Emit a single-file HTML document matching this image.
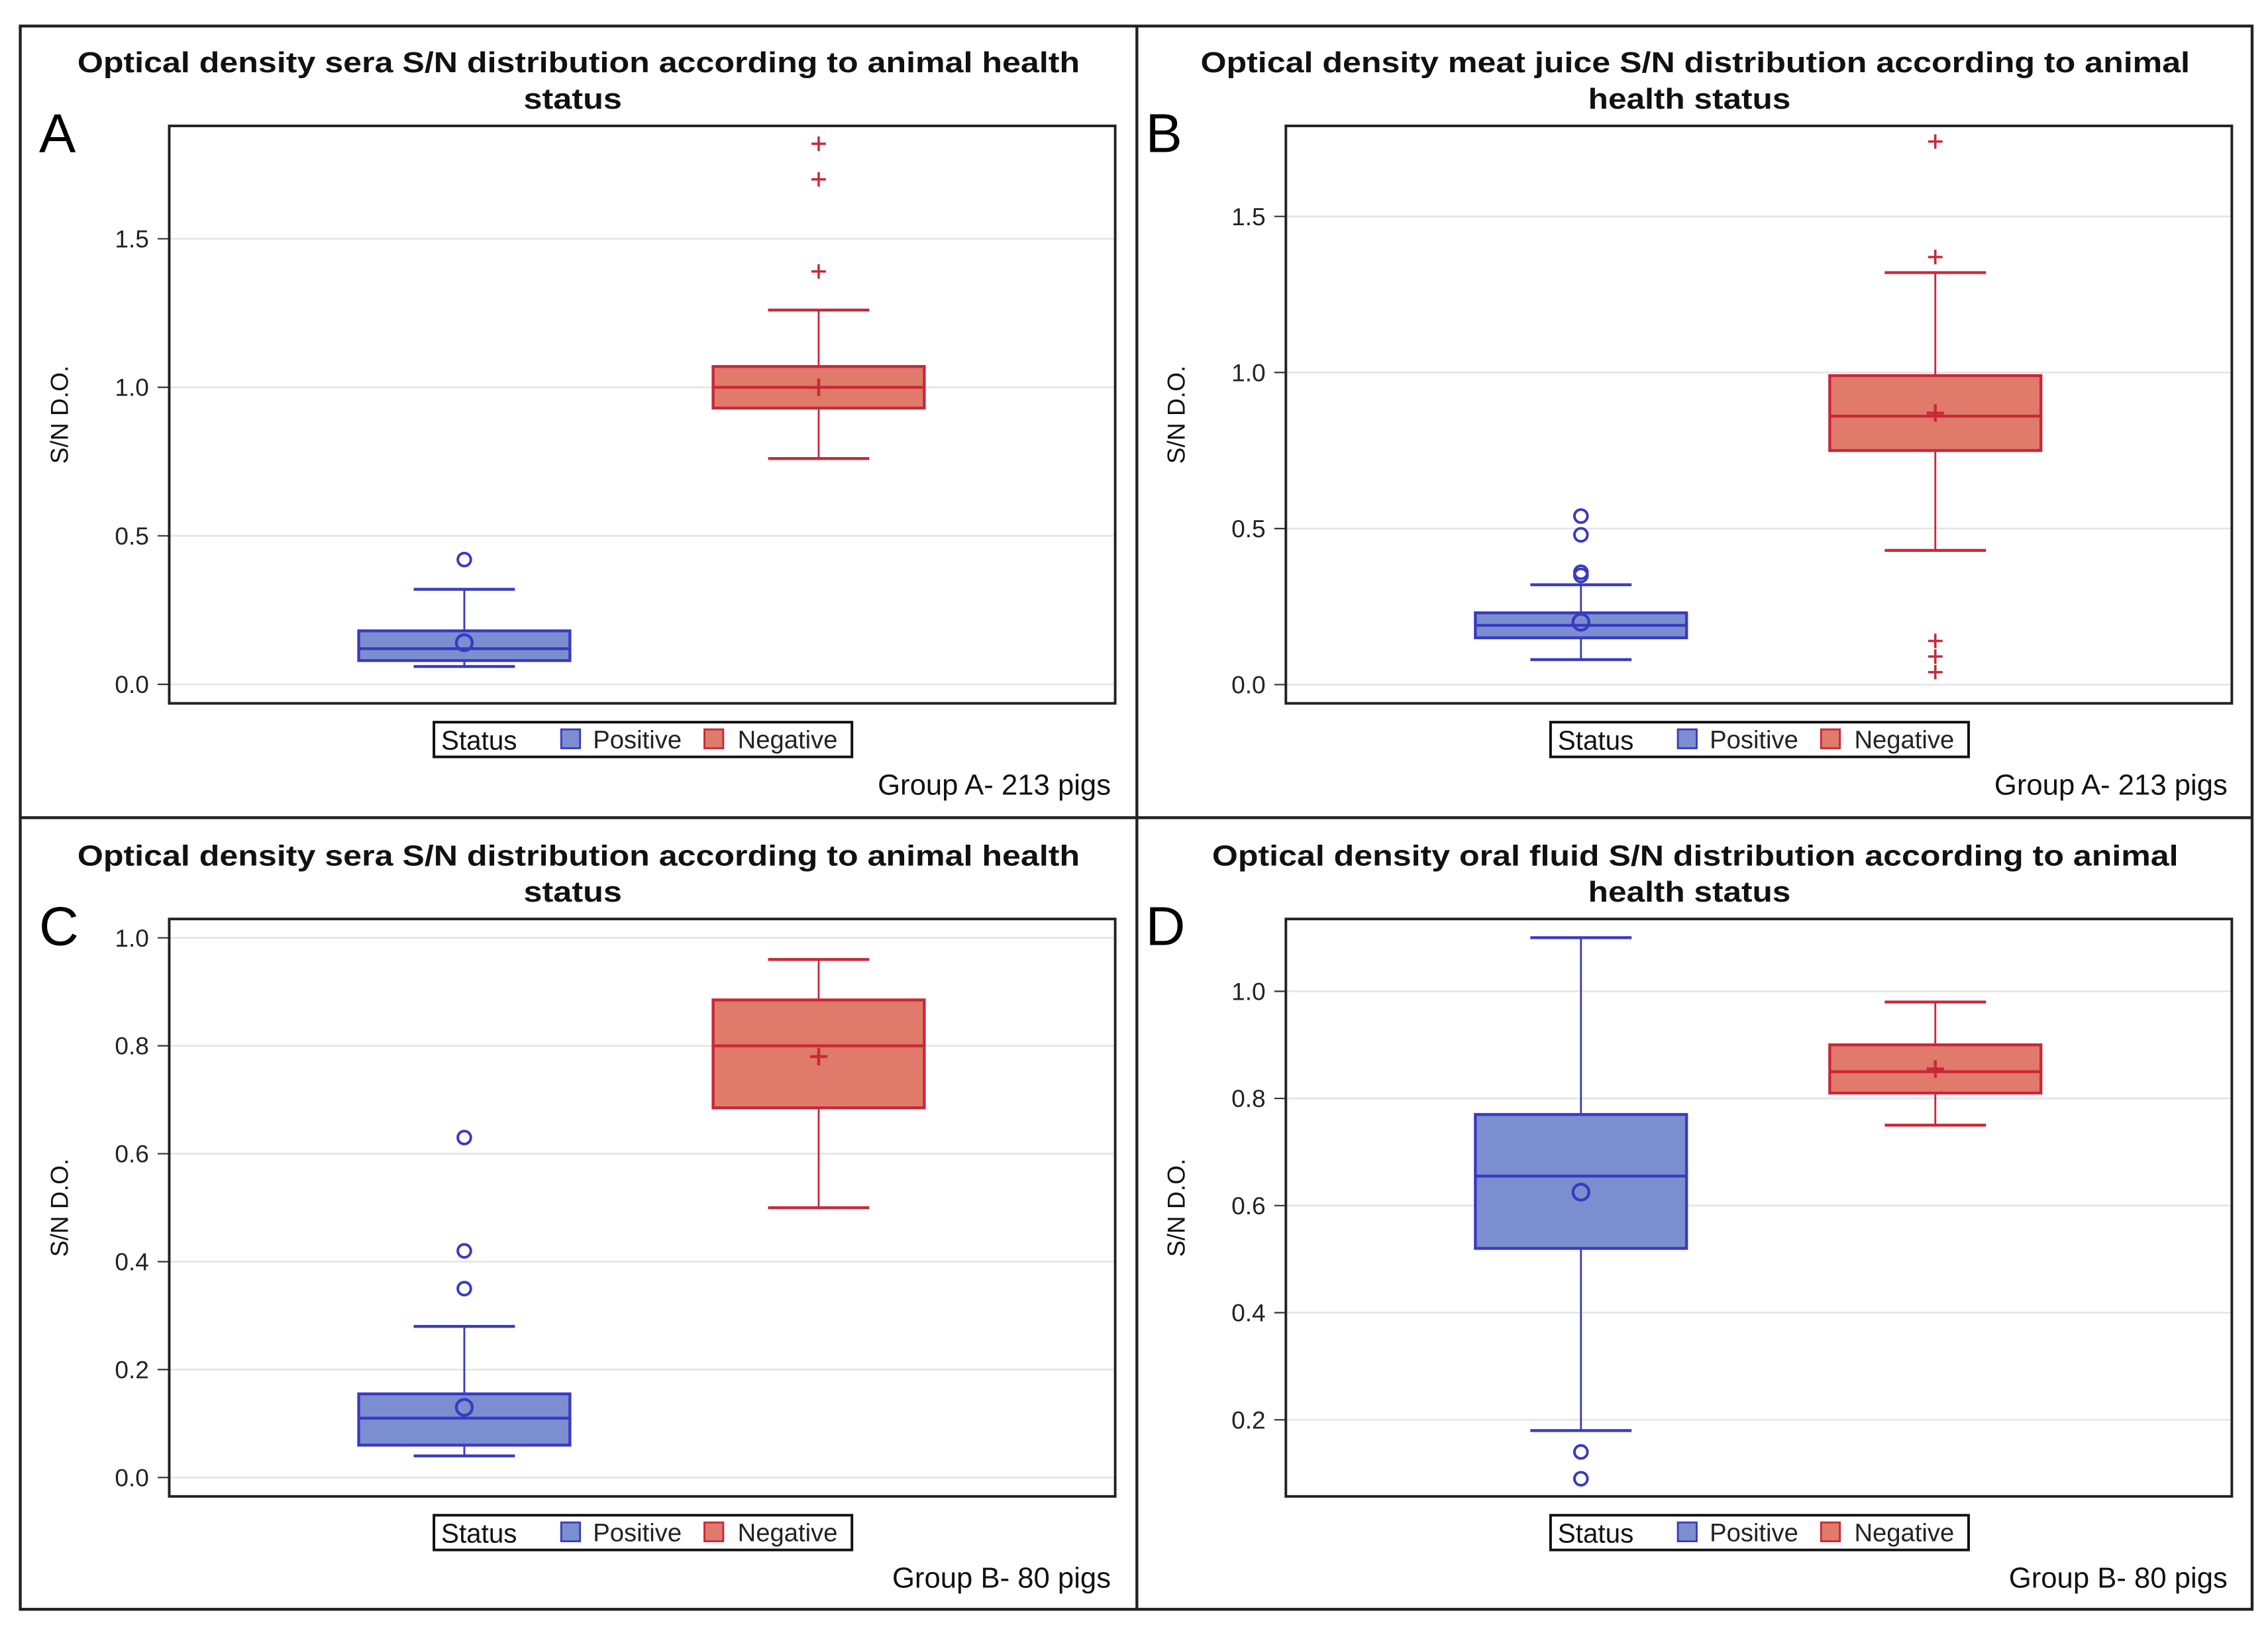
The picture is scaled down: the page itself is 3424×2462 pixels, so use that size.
<!DOCTYPE html>
<html><head><meta charset="utf-8"><style>
html,body{margin:0;padding:0;background:#fff}
svg{display:block}
text{font-family:"Liberation Sans",Arial,sans-serif}
</style></head><body>
<svg id="fig" width="3424" height="2462" viewBox="0 0 1568 1127" preserveAspectRatio="none" xmlns="http://www.w3.org/2000/svg">
<rect x="14" y="18" width="1543" height="1094" fill="#fff" stroke="#222" stroke-width="2"/>
<line x1="786" y1="18" x2="786" y2="1112" stroke="#222" stroke-width="2"/>
<line x1="14" y1="565" x2="1557" y2="565" stroke="#222" stroke-width="2"/>
</svg>
<script>
// ---- data ----
const panelLetters = ["A","B","C","D"];
const panelTitles1 = ["Optical density sera S/N distribution according to animal health","Optical density meat juice S/N distribution according to animal","Optical density sera S/N distribution according to animal health","Optical density oral fluid S/N distribution according to animal"];
const panelTitles2 = ["status","health status","status","health status"];
const footers = ["Group A- 213 pigs","Group A- 213 pigs","Group B- 80 pigs","Group B- 80 pigs"];
const categories = ["Positive","Negative"];
const yTicksA = [0.0,0.5,1.0,1.5];
const yTicksB = [0.0,0.5,1.0,1.5];
const yTicksC = [0.0,0.2,0.4,0.6,0.8,1.0];
const yTicksD = [0.2,0.4,0.6,0.8,1.0];
const yRangeA = [-0.064,1.88];
const yRangeB = [-0.06,1.79];
const yRangeC = [-0.035,1.035];
const yRangeD = [0.057,1.135];
// box stats: [low whisker, q1, median, q3, high whisker, mean]
const statsAPos = [0.06,0.08,0.12,0.18,0.32,0.14];
const statsANeg = [0.76,0.93,1.00,1.07,1.26,1.00];
const outliersAPos = [0.42];
const outliersANeg = [1.39,1.70,1.82];
const statsBPos = [0.08,0.15,0.19,0.23,0.32,0.20];
const statsBNeg = [0.43,0.75,0.86,0.99,1.32,0.87];
const outliersBPos = [0.35,0.36,0.48,0.54];
const outliersBNeg = [0.04,0.09,0.14,1.37,1.74];
const statsCPos = [0.04,0.06,0.11,0.155,0.28,0.13];
const statsCNeg = [0.50,0.685,0.80,0.885,0.96,0.78];
const outliersCPos = [0.35,0.42,0.63];
const outliersCNeg = [];
const statsDPos = [0.18,0.52,0.655,0.77,1.10,0.625];
const statsDNeg = [0.75,0.81,0.85,0.90,0.98,0.855];
const outliersDPos = [0.14,0.09];
const outliersDNeg = [];

// layout (text widths, not data)
const titleW1 = [693,684,693,668];
const titleW2 = [68,140,68,140];

const NS="http://www.w3.org/2000/svg";
const svg=document.getElementById('fig');
function mk(tag,attrs,parent){const e=document.createElementNS(NS,tag);for(const k in attrs)e.setAttribute(k,attrs[k]);(parent||svg).appendChild(e);return e;}

const panels=[
 {ox:0,oy:0,ticks:yTicksA,range:yRangeA,stats:[statsAPos,statsANeg],out:[outliersAPos,outliersANeg]},
 {ox:772,oy:0,ticks:yTicksB,range:yRangeB,stats:[statsBPos,statsBNeg],out:[outliersBPos,outliersBNeg]},
 {ox:0,oy:548,ticks:yTicksC,range:yRangeC,stats:[statsCPos,statsCNeg],out:[outliersCPos,outliersCNeg]},
 {ox:772,oy:548,ticks:yTicksD,range:yRangeD,stats:[statsDPos,statsDNeg],out:[outliersDPos,outliersDNeg]}
];
const fills=["#7b8fd0","#e07a6a"], strokes=["#3a3ac0","#c8283a"];

panels.forEach((p,i)=>{
 const g=mk('g',{transform:`translate(${p.ox},${p.oy})`});
 
 
 const L=117,R=771,T=87,B=486;
 const y=v=>B-(v-p.range[0])/(p.range[1]-p.range[0])*(B-T);
 const xs=[321,566];
 let t=mk('text',{x:400,y:50,'text-anchor':'middle','font-size':20,'font-weight':'bold',fill:'#111',textLength:titleW1[i],lengthAdjust:'spacingAndGlyphs'},g);t.textContent=panelTitles1[i];
 
 t=mk('text',{x:396,y:75,'text-anchor':'middle','font-size':20,'font-weight':'bold',fill:'#111',textLength:titleW2[i],lengthAdjust:'spacingAndGlyphs'},g);t.textContent=panelTitles2[i];
 
 t=mk('text',{x:i%2?20:27,y:105,'font-size':38,fill:'#000'},g);t.textContent=panelLetters[i];
 
 p.ticks.forEach(v=>{
  const l=mk('line',{x1:L,x2:R,y1:y(v),y2:y(v),stroke:'#e4e4e4','stroke-width':1.2},g);
  
  const tk=mk('line',{x1:L-8,x2:L,y1:y(v),y2:y(v),stroke:'#333','stroke-width':1},g);
  
  const tl=mk('text',{x:L-14,y:y(v)+6,'text-anchor':'end','font-size':17,fill:'#222'},g);tl.textContent=v.toFixed(1);
  
 });
 t=mk('text',{x:0,y:0,'text-anchor':'middle','font-size':17,fill:'#111',transform:`translate(47,${(T+B)/2}) rotate(-90)`},g);t.textContent='S/N D.O.';
 
 p.stats.forEach((s,j)=>{
  const cx=xs[j],c=strokes[j];
  const w1=mk('line',{x1:cx,x2:cx,y1:y(s[0]),y2:y(s[4]),stroke:c,'stroke-width':1.3},g);
  
  [s[0],s[4]].forEach(v=>{const cap=mk('line',{x1:cx-35,x2:cx+35,y1:y(v),y2:y(v),stroke:c,'stroke-width':2},g);
   });
  const bx=mk('rect',{x:cx-73,width:146,y:y(s[3]),height:y(s[1])-y(s[3]),fill:fills[j],stroke:c,'stroke-width':2},g);
  
  const md=mk('line',{x1:cx-73,x2:cx+73,y1:y(s[2]),y2:y(s[2]),stroke:c,'stroke-width':2},g);
  
  let mn;
  if(j==0){mn=mk('circle',{cx:cx,cy:y(s[5]),r:5.5,fill:'none',stroke:c,'stroke-width':2},g);}
  else{mn=mk('path',{d:`M${cx-6},${y(s[5])}h12M${cx},${y(s[5])-6}v12`,stroke:c,'stroke-width':2},g);}
  
  p.out[j].forEach(v=>{
   let o;
   if(j==0){o=mk('circle',{cx:cx,cy:y(v),r:4.5,fill:'none',stroke:c,'stroke-width':1.8},g);}
   else{o=mk('path',{d:`M${cx-5},${y(v)}h10M${cx},${y(v)-5}v10`,stroke:c,'stroke-width':1.6},g);}
   
  });
 });
 const fr=mk('rect',{x:L,y:T,width:R-L,height:B-T,fill:'none',stroke:'#222','stroke-width':1.8},g);
 
 const lg=mk('g',{},g);
 mk('rect',{x:300,y:499,width:289,height:24,fill:'#fff',stroke:'#111','stroke-width':1.8},lg);
 t=mk('text',{x:305,y:518,'font-size':18.5,fill:'#111'},lg);t.textContent='Status';
 
 [[388,410],[487,510]].forEach((q,j)=>{
  const sw=mk('rect',{x:q[0],y:504,width:13,height:13,fill:fills[j],stroke:strokes[j],'stroke-width':1.3},lg);
  
  const lt=mk('text',{x:q[1],y:517,'font-size':17.5,fill:'#222'},lg);lt.textContent=categories[j];
  
 });
 t=mk('text',{x:768,y:549,'text-anchor':'end','font-size':20,fill:'#111'},g);t.textContent=footers[i];
 
});
</script>
</body></html>
